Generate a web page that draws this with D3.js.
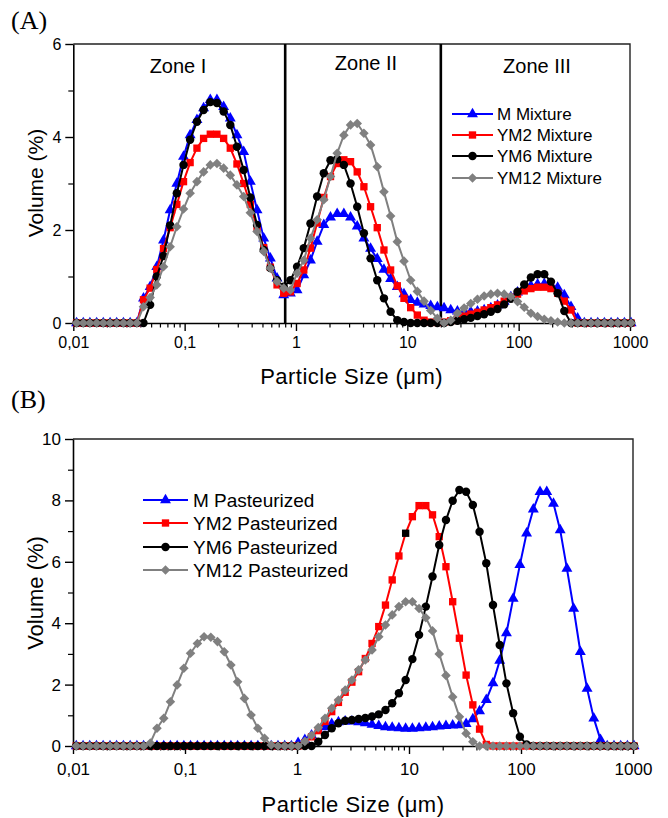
<!DOCTYPE html>
<html>
<head>
<meta charset="utf-8">
<script src="https://cdn.jsdelivr.net/npm/d3@7/dist/d3.min.js"></script>
<style>
  html, body { margin: 0; padding: 0; background: #fff; }
  svg { display: block; }
</style>
</head>
<body>
<svg id="chart" width="668" height="818"></svg>
<script>
// ---------------- DATA ----------------
// particle size classes (µm)
const sizes = [
  0.0107,0.0123,0.0141,0.0162,0.0186,0.0214,0.0245,0.0282,0.0324,0.0372,
  0.0427,0.0490,0.0562,0.0646,0.0741,0.0851,0.0977,0.112,0.129,0.148,
  0.170,0.195,0.224,0.257,0.295,0.339,0.389,0.447,0.513,0.589,
  0.676,0.776,0.891,1.023,1.175,1.349,1.549,1.778,2.042,2.344,
  2.692,3.090,3.548,4.074,4.677,5.370,6.166,7.079,8.128,9.333,
  10.72,12.30,14.13,16.22,18.62,21.38,24.55,28.18,32.36,37.15,
  42.66,48.98,56.23,64.57,74.13,85.11,97.72,112.2,128.8,147.9,
  169.8,195.0,223.9,257.0,295.1,338.8,389.0,446.7,512.9,588.8,
  676.1,776.2,891.3,1023
];

// Panel A – mixtures (Volume %)
const mMixture = [
  0,0,0,0,0,0,0,0,0,0,
  0.53,0.78,1.21,1.78,2.43,3.0,3.58,4.04,4.37,4.62,
  4.8,4.8,4.65,4.4,4.04,3.68,3.04,2.43,1.82,1.39,
  0.96,0.6,0.64,0.71,1.03,1.35,1.75,2.11,2.27,2.35,
  2.35,2.27,2.08,1.82,1.6,1.38,1.15,0.95,0.78,0.62,
  0.5,0.44,0.4,0.37,0.34,0.32,0.28,0.25,0.24,0.24,
  0.25,0.28,0.32,0.38,0.46,0.56,0.66,0.74,0.8,0.83,
  0.84,0.82,0.76,0.6,0.35,0.1,0,0,0,0,
  0,0,0,0
];
const ym2Mixture = [
  0,0,0,0,0,0,0,0,0,0,
  0.5,0.75,1.15,1.6,2.05,2.55,3.04,3.45,3.76,3.97,
  4.06,4.06,3.97,3.76,3.42,3.0,2.55,2.05,1.62,1.2,
  0.82,0.64,0.67,0.85,1.14,1.61,2.15,2.7,3.15,3.43,
  3.51,3.47,3.25,2.93,2.5,2.05,1.57,1.14,0.8,0.53,
  0.33,0.17,0.06,0.02,0.01,0.02,0.05,0.1,0.15,0.19,
  0.23,0.28,0.33,0.39,0.47,0.55,0.62,0.69,0.74,0.77,
  0.77,0.74,0.64,0.47,0.28,0,0,0,0,0,
  0,0,0,0
];
const ym6Mixture = [
  0,0,0,0,0,0,0,0,0,0,
  0,0.39,1.0,1.44,2.1,2.79,3.4,3.94,4.33,4.58,
  4.75,4.73,4.55,4.26,3.79,3.29,2.7,2.11,1.57,1.18,
  0.92,0.78,0.92,1.21,1.61,2.14,2.72,3.22,3.5,3.52,
  3.4,3.0,2.5,1.93,1.39,0.92,0.53,0.24,0.06,0.02,
  0,0,0,0,0,0,0.02,0.05,0.08,0.11,
  0.15,0.19,0.24,0.3,0.4,0.52,0.67,0.83,0.98,1.05,
  1.05,0.89,0.64,0.26,0,0,0,0,0,0,
  0,0,0,0
];
const ym12Mixture = [
  0,0,0,0,0,0,0,0,0,0,
  0.35,0.55,0.82,1.21,1.64,2.07,2.45,2.79,3.04,3.25,
  3.4,3.43,3.33,3.18,2.97,2.72,2.37,1.97,1.54,1.18,
  0.89,0.75,0.71,1.07,1.35,1.82,2.22,2.65,3.15,3.65,
  4.04,4.26,4.29,4.08,3.83,3.36,2.82,2.3,1.75,1.33,
  0.92,0.68,0.47,0.27,0.1,0,0.06,0.21,0.32,0.42,
  0.51,0.58,0.62,0.64,0.62,0.57,0.46,0.34,0.21,0.14,
  0.08,0.05,0.02,0,0,0,0,0,0,0,
  0,0,0,0
];

// Panel B – pasteurized (Volume %)
const mPasteurized = [
  0,0,0,0,0,0,0,0,0,0,
  0,0,0,0,0,0,0,0,0,0,
  0,0,0,0,0,0,0,0,0,0,
  0,0,0,0.1,0.2,0.35,0.5,0.62,0.72,0.78,
  0.8,0.8,0.78,0.75,0.7,0.66,0.62,0.6,0.58,0.57,
  0.57,0.58,0.6,0.62,0.64,0.66,0.67,0.68,0.72,0.88,
  1.14,1.5,2.05,2.78,3.68,4.8,5.9,6.93,7.71,8.28,
  8.28,7.9,7.03,5.78,4.48,3.07,1.87,0.9,0.2,0,
  0,0,0,0
];
const ym2Pasteurized = [
  0,0,0,0,0,0,0,0,0,0,
  0,0,0,0,0,0,0,0,0,0,
  0,0,0,0,0,0,0,0,0,0,
  0,0,0,0,0.1,0.3,0.5,0.8,1.12,1.42,
  1.75,2.08,2.42,2.85,3.34,3.89,4.59,5.41,6.19,6.93,
  7.47,7.83,7.83,7.53,6.82,5.84,4.7,3.51,2.31,1.34,
  0.55,0.05,0,0,0,0,0,0,0,0,
  0,0,0,0,0,0,0,0,0,0,
  0,0,0,0
];
const ym6Pasteurized = [
  0,0,0,0,0,0,0,0,0,0,
  0,0,0,0,0,0,0,0,0,0,
  0,0,0,0,0,0,0,0,0,0,
  0,0,0,0,0,0,0.14,0.36,0.58,0.74,
  0.82,0.85,0.88,0.91,0.96,1.03,1.17,1.39,1.72,2.15,
  2.83,3.62,4.54,5.52,6.55,7.36,7.99,8.34,8.28,7.85,
  6.98,5.95,4.59,3.29,2.04,1.07,0.3,0.05,0,0,
  0,0,0,0,0,0,0,0,0,0,
  0,0,0,0
];
const ym12Pasteurized = [
  0,0,0,0,0,0,0,0,0,0,
  0,0.1,0.58,0.9,1.44,1.99,2.53,3.02,3.34,3.56,
  3.54,3.4,3.07,2.64,2.09,1.55,1.01,0.58,0.25,0.03,
  0,0,0,0,0.15,0.35,0.6,0.9,1.23,1.5,
  1.82,2.15,2.48,2.8,3.13,3.56,3.94,4.27,4.54,4.7,
  4.7,4.48,4.18,3.75,3.0,2.3,1.6,0.95,0.41,0.14,
  0,0,0,0,0,0,0,0,0,0,
  0,0,0,0,0,0,0,0,0,0,
  0,0,0,0
];

const seriesNamesA = ["M Mixture","YM2 Mixture","YM6 Mixture","YM12 Mixture"];
const seriesNamesB = ["M Pasteurized","YM2 Pasteurized","YM6 Pasteurized","YM12 Pasteurized"];
const zoneLabels = ["Zone I","Zone II","Zone III"];
const zoneBounds = [0.8, 20];
const xTickValues = [0.01,0.1,1,10,100,1000];
const xTickLabels = ["0,01","0,1","1","10","100","1000"];
const yTicksA = [0,2,4,6];
const yTicksB = [0,2,4,6,8,10];

// ---------------- STYLE ----------------
const SANS = '"Liberation Sans", Arial, sans-serif';
const SERIF = '"Liberation Serif", "Times New Roman", serif';
const colors = ["#0000ff","#ff0000","#000000","#808080"];
const shapes = ["triangle","square","circle","diamond"];

const svg = d3.select("#chart");

function markerPath(shape) {
  if (shape === "triangle") return d3.symbol().type(d3.symbolTriangle).size(52)();
  if (shape === "square") return d3.symbol().type(d3.symbolSquare).size(54)();
  if (shape === "circle") return d3.symbol().type(d3.symbolCircle).size(56)();
  return d3.symbol().type(d3.symbolSquare).size(46)();
}
function markerRotate(shape) { return shape === "diamond" ? " rotate(45)" : ""; }

function drawPanel(cfg) {
  const g = svg.append("g");
  const x = d3.scaleLog().domain([0.01,1000]).range([cfg.left, cfg.right]);
  const y = d3.scaleLinear().domain([0, cfg.ymax]).range([cfg.bottom, cfg.top]);

  // frame (top / right)
  g.append("path")
    .attr("d", `M${cfg.left},${cfg.top}H${cfg.right}V${cfg.bottom}`)
    .attr("fill","none").attr("stroke","#222").attr("stroke-width",1.4);

  // minor x ticks
  const minorX = [];
  for (let e = -2; e < 3; e++) for (let m = 2; m <= 9; m++) minorX.push(m * Math.pow(10, e));
  g.append("g").attr("transform",`translate(0,${cfg.bottom})`)
    .call(d3.axisBottom(x).tickValues(minorX).tickSize(4.5).tickFormat(""))
    .call(a => a.select(".domain").remove())
    .call(a => a.selectAll("line").attr("stroke","#000").attr("stroke-width",1.2));
  // major x ticks
  g.append("g").attr("transform",`translate(0,${cfg.bottom})`)
    .call(d3.axisBottom(x).tickValues(xTickValues).tickSize(8).tickSizeOuter(0)
      .tickFormat((d,i) => xTickLabels[i]))
    .call(a => a.select(".domain").attr("stroke","#000").attr("stroke-width",1.6))
    .call(a => a.selectAll("line").attr("stroke","#000").attr("stroke-width",1.4))
    .call(a => a.selectAll("text").attr("dy",null).attr("y",cfg.xLabelDy)
      .style("font-size",cfg.tickFont + "px").style("font-family",SANS).attr("fill","#000"));

  // minor y ticks
  const minorY = d3.range(1, cfg.ymax, 2);
  g.append("g").attr("transform",`translate(${cfg.left},0)`)
    .call(d3.axisLeft(y).tickValues(minorY).tickSize(5).tickFormat(""))
    .call(a => a.select(".domain").remove())
    .call(a => a.selectAll("line").attr("stroke","#000").attr("stroke-width",1.2));
  g.append("g").attr("transform",`translate(${cfg.left},0)`)
    .call(d3.axisLeft(y).tickValues(cfg.yTicks).tickSize(8).tickSizeOuter(0).tickPadding(4)
      .tickFormat(d3.format("d")))
    .call(a => a.select(".domain").attr("stroke","#000").attr("stroke-width",1.6))
    .call(a => a.selectAll("line").attr("stroke","#000").attr("stroke-width",1.4))
    .call(a => a.selectAll("text").style("font-size",cfg.tickFont + "px").style("font-family",SANS).attr("fill","#000"));

  // zone dividers
  if (cfg.zones) {
    zoneBounds.forEach(b => {
      g.append("line").attr("x1",x(b)).attr("x2",x(b)).attr("y1",cfg.top).attr("y2",cfg.bottom)
        .attr("stroke","#000").attr("stroke-width",2.6);
    });
    const zoneCenters = [178, 366, 537];
    const zoneBase = [73, 70, 73];
    zoneLabels.forEach((t,i) => {
      g.append("text").attr("x",zoneCenters[i]).attr("y",zoneBase[i])
        .attr("text-anchor","middle").style("font-family",SANS).style("font-size","20px").text(t);
    });
  }

  // series
  const line = d3.line().x(d => x(d[0])).y(d => y(d[1]));
  cfg.series.forEach((vals, si) => {
    const pts = sizes.map((s,i) => [s, vals[i]]);
    const sg = g.append("g");
    sg.append("path").datum(pts).attr("d", line)
      .attr("fill","none").attr("stroke",colors[si]).attr("stroke-width",2)
      .attr("stroke-linejoin","round");
    sg.selectAll("path.m").data(pts).enter().append("path").attr("class","m")
      .attr("d", markerPath(shapes[si]))
      .attr("transform", d => `translate(${x(d[0])},${y(d[1])})${markerRotate(shapes[si])}`)
      .attr("fill", (d,i) => (cfg.oddMarker && cfg.oddMarker[0] === si && cfg.oddMarker[1] === i) ? "#000" : colors[si]);
  });

  // legend
  cfg.names.forEach((n,i) => {
    const ly = cfg.legY[i];
    g.append("line").attr("x1",cfg.legX0).attr("x2",cfg.legX1).attr("y1",ly).attr("y2",ly)
      .attr("stroke",colors[i]).attr("stroke-width",2.2);
    g.append("path").attr("d", markerPath(shapes[i]))
      .attr("transform",`translate(${(cfg.legX0+cfg.legX1)/2},${ly})${markerRotate(shapes[i])}`)
      .attr("fill",colors[i]);
    g.append("text").attr("x",cfg.legText).attr("y",ly + cfg.legFont * 0.36)
      .style("font-family",SANS).style("font-size",cfg.legFont + "px").text(n);
  });

  // axis titles
  g.append("text").attr("x",(cfg.left+cfg.right)/2).attr("y",cfg.xTitleY)
    .attr("text-anchor","middle").style("font-family",SANS).style("font-size","22px")
    .style("letter-spacing","0.5px").text("Particle Size (μm)");
  g.append("text").attr("transform",`translate(43,${cfg.yTitleC}) rotate(-90)`)
    .attr("text-anchor","middle").style("font-family",SANS).style("font-size",cfg.yTitleFont + "px").text("Volume (%)");

  // panel label
  g.append("text").attr("x",11).attr("y",cfg.panelY)
    .style("font-family",SERIF).style("font-size","26px").text(cfg.panel);
}

drawPanel({
  left: 73.3, right: 630, top: 44, bottom: 323, ymax: 6, yTicks: yTicksA,
  series: [mMixture, ym2Mixture, ym6Mixture, ym12Mixture], names: seriesNamesA,
  zones: true, legX0: 452, legX1: 493, legText: 497, legY: [114,135,156,178], legFont: 17,
  tickFont: 16, yTitleFont: 21,
  xLabelDy: 25, xTitleY: 384, yTitleC: 183, panel: "(A)", panelY: 29
});
drawPanel({
  left: 73, right: 633, top: 439, bottom: 746, ymax: 10, yTicks: yTicksB,
  series: [mPasteurized, ym2Pasteurized, ym6Pasteurized, ym12Pasteurized], names: seriesNamesB,
  zones: false, legX0: 143, legX1: 188, legText: 193, legY: [500,523,547,570], legFont: 19,
  tickFont: 17, yTitleFont: 22,
  xLabelDy: 29, xTitleY: 812, yTitleC: 593, panel: "(B)", panelY: 408,
  oddMarker: [1, 49]
});
</script>
</body>
</html>
